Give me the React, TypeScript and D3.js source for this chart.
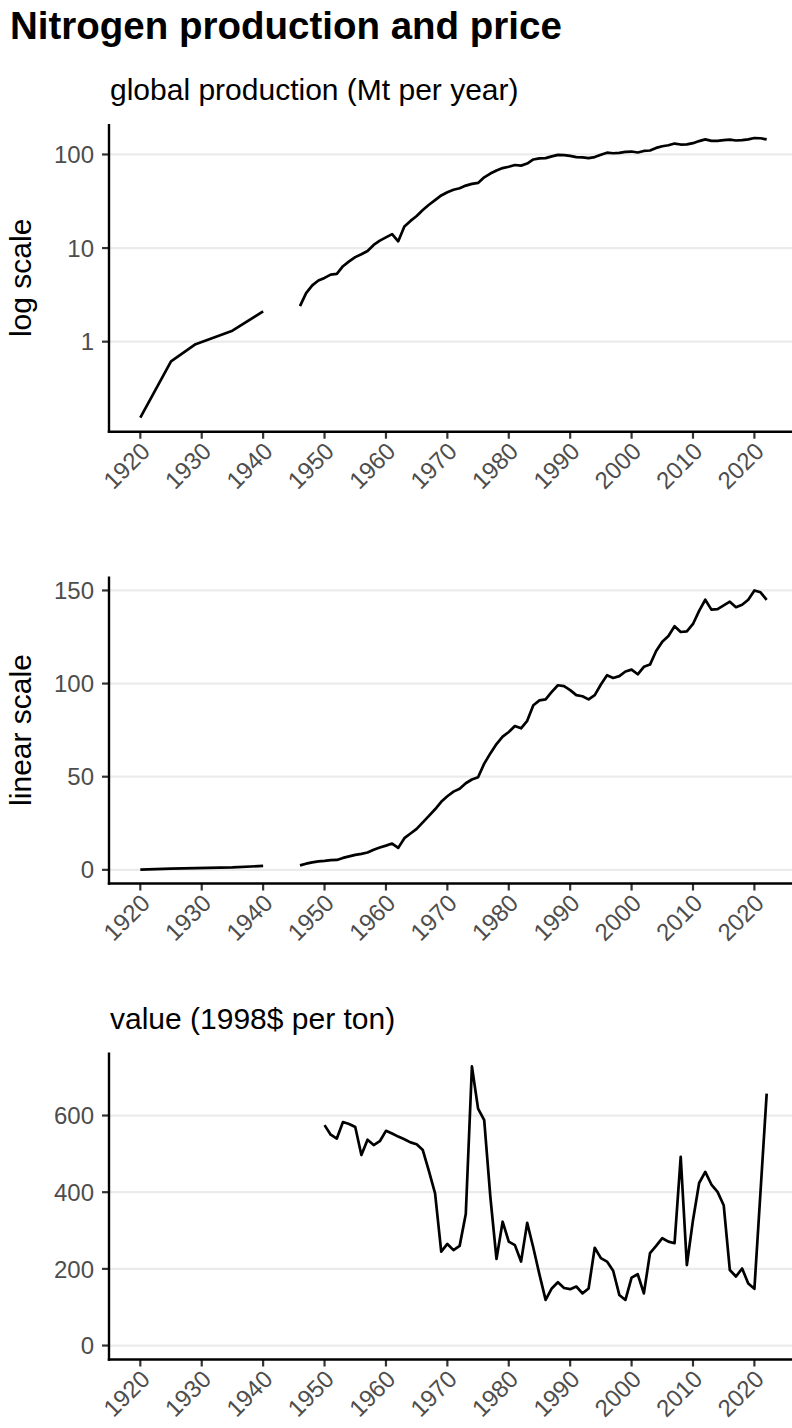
import * as d3 from "d3"

// global nitrogen production, Mt per year (gap 1941-1945)
const prodYears = [
  1920, 1925, 1929, 1935, 1940, 1941,
  1946, 1947, 1948, 1949, 1950, 1951, 1952, 1953, 1954, 1955, 1956, 1957, 1958, 1959,
  1960, 1961, 1962, 1963, 1964, 1965, 1966, 1967, 1968, 1969,
  1970, 1971, 1972, 1973, 1974, 1975, 1976, 1977, 1978, 1979,
  1980, 1981, 1982, 1983, 1984, 1985, 1986, 1987, 1988, 1989,
  1990, 1991, 1992, 1993, 1994, 1995, 1996, 1997, 1998, 1999,
  2000, 2001, 2002, 2003, 2004, 2005, 2006, 2007, 2008, 2009,
  2010, 2011, 2012, 2013, 2014, 2015, 2016, 2017, 2018, 2019,
  2020, 2021, 2022,
]
const prodValues: (number | null)[] = [
  0.154, 0.615, 0.94, 1.31, 2.11, null,
  2.4, 3.3, 4.0, 4.5, 4.8, 5.2, 5.3, 6.4, 7.2, 8.0, 8.6, 9.3, 10.8, 12.0,
  13.0, 14.1, 11.8, 17.0, 19.5, 22.0, 25.5, 29.0, 32.5, 36.5,
  39.5, 42.0, 43.5, 46.5, 48.5, 49.7, 57.0, 62.5, 67.5, 71.5,
  74.0, 77.2, 76.0, 80.0, 88.4, 91.0, 91.5, 95.5, 99.1, 98.6,
  96.5, 93.8, 93.2, 91.5, 93.8, 99.5, 104.5, 103.0, 104.0, 106.5,
  107.5, 105.0, 109.0, 110.2, 117.5, 122.5, 125.5, 130.8, 127.7, 128.0,
  132.0, 139.0, 145.0, 139.7, 140.0, 142.0, 144.0, 141.0, 142.3, 145.0,
  150.0, 149.0, 145.0,
]

// unit value, 1998$ per ton
const priceYears = [
  1950, 1951, 1952, 1953, 1954, 1955, 1956, 1957, 1958, 1959,
  1960, 1961, 1962, 1963, 1964, 1965, 1966, 1967, 1968, 1969,
  1970, 1971, 1972, 1973, 1974, 1975, 1976, 1977, 1978, 1979,
  1980, 1981, 1982, 1983, 1984, 1985, 1986, 1987, 1988, 1989,
  1990, 1991, 1992, 1993, 1994, 1995, 1996, 1997, 1998, 1999,
  2000, 2001, 2002, 2003, 2004, 2005, 2006, 2007, 2008, 2009,
  2010, 2011, 2012, 2013, 2014, 2015, 2016, 2017, 2018, 2019,
  2020, 2022,
]
const priceValues = [
  575, 550, 540, 583, 578, 570, 497, 537, 523, 533,
  560, 553, 545, 538, 530, 525, 510, 455, 397, 245,
  265, 249, 260, 343, 728, 618, 588, 388, 226, 323,
  271, 262, 219, 320, 255, 185, 119, 149, 165, 150,
  147, 154, 136, 149, 255, 228, 219, 195, 132, 119,
  177, 186, 136, 241, 260, 280, 271, 267, 492, 210,
  327, 424, 453, 420, 401, 366, 197, 180, 201, 162,
  148, 657,
]

const xTicks = [1920, 1930, 1940, 1950, 1960, 1970, 1980, 1990, 2000, 2010, 2020]
const logTicks = [1, 10, 100]
const linTicks = [0, 50, 100, 150]
const priceTicks = [0, 200, 400, 600]

const W = 792
const H = 1428
const FONT = "'Liberation Sans', Arial, Helvetica, sans-serif"

type Pt = { x: number; y: number | null }

const prod: Pt[] = prodYears.map((x, i) => ({ x, y: prodValues[i] }))
const price: Pt[] = priceYears.map((x, i) => ({ x, y: priceValues[i] }))

// ggplot style 5% expansion
const expand = (lo: number, hi: number) => {
  const pad = (hi - lo) * 0.05
  return [lo - pad, hi + pad]
}

const [xLo, xHi] = expand(d3.min(prodYears)!, d3.max(prodYears)!)
const x = d3.scaleLinear().domain([xLo, xHi]).range([109, 798])

type PanelProps = {
  top: number
  bottom: number
  y: (v: number) => number
  ticks: number[]
  data: Pt[]
  title?: string
  axisTitle?: string
}

function Panel({ top, bottom, y, ticks, data, title, axisTitle }: PanelProps) {
  const left = x.range()[0]
  const line = d3
    .line<Pt>()
    .defined((d) => d.y != null)
    .x((d) => x(d.x))
    .y((d) => y(d.y as number))

  return (
    <g>
      {title && (
        <text x={110} y={top - 24} fontSize={30} fill="#000">
          {title}
        </text>
      )}
      {axisTitle && (
        <text
          transform={`translate(31,${(top + bottom) / 2}) rotate(-90)`}
          textAnchor="middle"
          fontSize={30}
          fill="#000"
        >
          {axisTitle}
        </text>
      )}
      {/* grid */}
      {ticks.map((t) => (
        <line key={"g" + t} x1={left} x2={W} y1={y(t)} y2={y(t)} stroke="#ebebeb" strokeWidth={2.2} />
      ))}
      <path d={line(data) ?? ""} fill="none" stroke="#000" strokeWidth={2.7} strokeLinejoin="round" />
      {/* y axis */}
      {ticks.map((t) => (
        <g key={"y" + t}>
          <line x1={left - 7} x2={left} y1={y(t)} y2={y(t)} stroke="#333" strokeWidth={2.2} />
          <text x={94} y={y(t)} dy="0.36em" textAnchor="end" fontSize={24} fill="#4d4d4d">
            {t}
          </text>
        </g>
      ))}
      <line x1={left} x2={left} y1={top} y2={bottom + 1.2} stroke="#000" strokeWidth={2.4} />
      {/* x axis */}
      {xTicks.map((t) => (
        <g key={"x" + t}>
          <line x1={x(t)} x2={x(t)} y1={bottom} y2={bottom + 7} stroke="#333" strokeWidth={2.2} />
          <text
            transform={`translate(${x(t) + 11},${bottom + 21}) rotate(-45)`}
            textAnchor="end"
            fontSize={24}
            fill="#4d4d4d"
          >
            {t}
          </text>
        </g>
      ))}
      <line x1={left - 1.2} x2={W} y1={bottom} y2={bottom} stroke="#000" strokeWidth={2.4} />
    </g>
  )
}

export default function App() {
  const prodVals = prodValues.filter((v): v is number => v != null)

  // log panel
  const p1 = { top: 124, bottom: 431.7 }
  const [l0, l1] = expand(Math.log10(d3.min(prodVals)!), Math.log10(d3.max(prodVals)!))
  const yLog = d3.scaleLog().domain([10 ** l0, 10 ** l1]).range([p1.bottom, p1.top])

  // linear panel
  const p2 = { top: 576.5, bottom: 883.5 }
  const yLin = d3
    .scaleLinear()
    .domain(expand(d3.min(prodVals)!, d3.max(prodVals)!))
    .range([p2.bottom, p2.top])

  // price panel
  const p3 = { top: 1052.5, bottom: 1359.5 }
  const yPrice = d3
    .scaleLinear()
    .domain(expand(0, d3.max(priceValues)!))
    .range([p3.bottom, p3.top])

  return (
    <svg
      width={W}
      height={H}
      style={{ position: "absolute", left: 0, top: 0, background: "#fff" }}
      fontFamily={FONT}
    >
      <rect width={W} height={H} fill="#fff" />
      <text x={10} y={39} fontSize={38.5} fontWeight="bold" fill="#000">
        Nitrogen production and price
      </text>
      <Panel
        {...p1}
        y={yLog}
        ticks={logTicks}
        data={prod}
        title="global production (Mt per year)"
        axisTitle="log scale"
      />
      <Panel {...p2} y={yLin} ticks={linTicks} data={prod} axisTitle="linear scale" />
      <Panel {...p3} y={yPrice} ticks={priceTicks} data={price} title="value (1998$ per ton)" />
    </svg>
  )
}
